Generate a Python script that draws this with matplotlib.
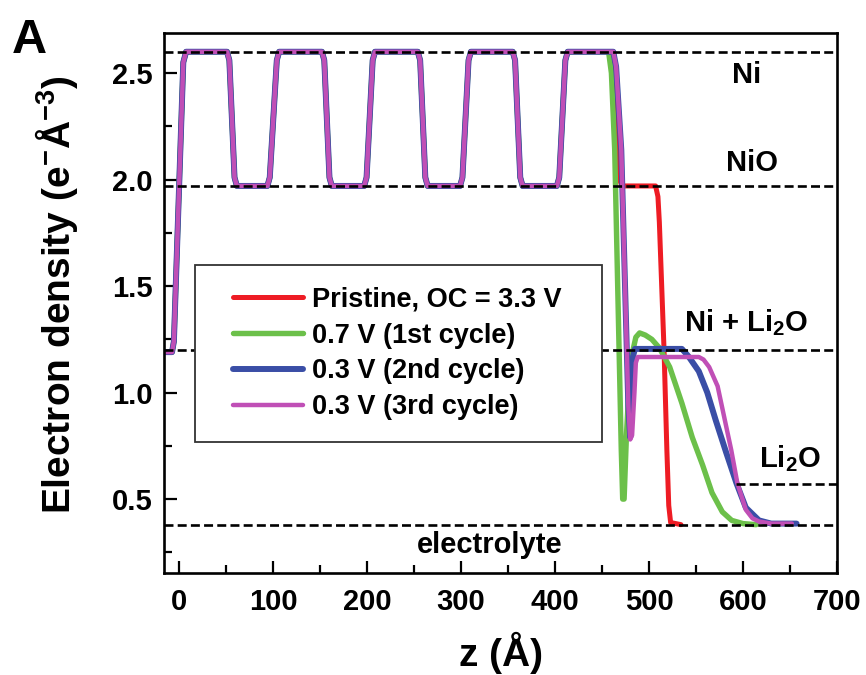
import matplotlib
matplotlib.use("Agg")
import matplotlib.pyplot as plt
from matplotlib.patches import Rectangle
from matplotlib.ticker import MultipleLocator, FormatStrFormatter

plt.rcParams["font.family"] = ["Liberation Sans", "DejaVu Sans"]
plt.rcParams["font.weight"] = "bold"
plt.rcParams["mathtext.fontset"] = "custom"
plt.rcParams["mathtext.rm"] = "Liberation Sans:bold"
plt.rcParams["mathtext.it"] = "Liberation Sans:bold"
plt.rcParams["mathtext.bf"] = "Liberation Sans:bold"

# --- data ------------------------------------------------------------------
# Ni/NiO multilayer part, shared by all four profiles
stack_z = [-16, -7.5, -5.5, 4.5, 7.5,
           51, 53.5, 59, 61.5, 94, 96.5, 104, 106.5,
           152, 154.5, 160, 162.5, 197, 199.5, 206, 208.5,
           254, 256.5, 262, 264.5, 299, 301.5, 308, 310.5,
           355, 357.5, 363, 365.5, 402, 404.5, 411, 413.5, 455]
stack_rho = [1.19, 1.19, 1.24, 2.55, 2.60,
             2.60, 2.56, 2.01, 1.97, 1.97, 2.01, 2.56, 2.60,
             2.60, 2.56, 2.01, 1.97, 1.97, 2.01, 2.56, 2.60,
             2.60, 2.56, 2.01, 1.97, 1.97, 2.01, 2.56, 2.60,
             2.60, 2.56, 2.01, 1.97, 1.97, 2.01, 2.56, 2.60, 2.60]

# outer part of each profile
red_z = [460, 462, 468, 471, 507, 509.5, 511, 516, 519, 521, 523, 534]
red_rho = [2.60, 2.57, 2.01, 1.97, 1.97, 1.92, 1.80, 1.20, 0.73, 0.47,
           0.39, 0.38]

green_z = [457, 460, 463.5, 470.5, 472, 473.5, 476, 479, 482, 486, 490, 496,
           503, 511, 522, 535, 546, 557, 567, 578, 588, 600, 614]
green_rho = [2.60, 2.50, 2.14, 0.73, 0.50, 0.50, 0.80, 1.05, 1.18, 1.26,
             1.28, 1.27, 1.25, 1.21, 1.12, 0.95, 0.79, 0.66, 0.53, 0.44,
             0.40, 0.385, 0.38]

blue_z = [462, 465, 470.5, 478, 480, 481.5, 483, 485, 535, 542, 553, 562,
          571, 582, 593, 603, 617, 630, 657]
blue_rho = [2.60, 2.53, 2.14, 0.94, 0.79, 0.95, 1.17, 1.205, 1.205, 1.17,
            1.10, 1.00, 0.87, 0.72, 0.575, 0.46, 0.40, 0.385, 0.385]

magenta_z = [462, 465, 470.5, 478, 480, 482, 484.5, 486, 488, 553, 558, 564,
             573, 580, 587.5, 594, 603, 610, 617, 630, 652]
magenta_rho = [2.60, 2.53, 2.14, 0.94, 0.78, 0.80, 1.00, 1.14, 1.167, 1.167,
               1.155, 1.12, 1.03, 0.885, 0.73, 0.575, 0.45, 0.41, 0.395,
               0.385, 0.385]

series_labels = ["Pristine, OC = 3.3 V", "0.7 V (1st cycle)",
                 "0.3 V (2nd cycle)", "0.3 V (3rd cycle)"]
series_colors = ["#ee1c24", "#6cc04a", "#3a4ea6", "#c04fb6"]
series_widths = [3.6, 3.9, 4.3, 3.2]

# reference densities of the bulk phases
ref_names = ["Ni", "NiO", "Ni + Li$_2$O", "Li$_2$O", "electrolyte"]
ref_levels = [2.60, 1.97, 1.20, 0.57, 0.38]
li2o_start = 593

# --- figure ------------------------------------------------------------------
fig = plt.figure(figsize=(8.66, 6.75), dpi=100)
fig.patch.set_facecolor("white")
ax = fig.add_axes([0.1894, 0.1511, 0.7771, 0.8000])

tails = [(red_z, red_rho), (green_z, green_rho),
         (blue_z, blue_rho), (magenta_z, magenta_rho)]
for (tz, tr), lab, col, lw in zip(tails, series_labels, series_colors,
                                  series_widths):
    ax.plot(stack_z + tz, stack_rho + tr, color=col, lw=lw, label=lab,
            solid_joinstyle="round", solid_capstyle="round", zorder=2)

dash = dict(color="black", lw=1.9, dashes=(3.4, 1.6), zorder=3)
for name, lvl in zip(ref_names, ref_levels):
    if name == "Li$_2$O":
        ax.plot([li2o_start, 700], [lvl, lvl], **dash)
    else:
        ax.axhline(lvl, **dash)

txt = dict(fontsize=21, fontweight="bold", ha="center", va="center")
ax.text(604, 2.49, ref_names[0], **txt)
ax.text(610, 2.08, ref_names[1], **txt)
ax.text(603, 1.33, ref_names[2], **txt)
ax.text(650, 0.69, ref_names[3], **txt)
ax.text(330, 0.285, ref_names[4], **txt)

# legend frame drawn as a plain box, legend entries placed inside it
ax.add_patch(Rectangle((0.0461, 0.2426), 0.6047, 0.3278,
                       transform=ax.transAxes, facecolor="white",
                       edgecolor="#333333", lw=1.3, zorder=4))
leg = ax.legend(loc="upper left", bbox_to_anchor=(0.1025, 0.530),
                fontsize=19.5, frameon=False, handlelength=2.6,
                handletextpad=0.3, borderpad=0, labelspacing=0.36,
                borderaxespad=0)
leg.set_zorder(5)

ax.set_xlim(-16, 700)
ax.set_ylim(0.153, 2.688)
ax.xaxis.set_major_locator(MultipleLocator(100))
ax.xaxis.set_minor_locator(MultipleLocator(50))
ax.yaxis.set_major_locator(MultipleLocator(0.5))
ax.yaxis.set_minor_locator(MultipleLocator(0.25))
ax.yaxis.set_major_formatter(FormatStrFormatter("%.1f"))
ax.tick_params(which="both", direction="in", width=1.6, labelsize=21,
               top=False, right=False)
ax.tick_params(which="major", length=9)
ax.tick_params(which="minor", length=5.5)
ax.tick_params(axis="x", which="major", pad=11)
ax.tick_params(axis="y", which="major", pad=8)
for lbl in ax.get_xticklabels() + ax.get_yticklabels():
    lbl.set_fontweight("bold")
for sp in ax.spines.values():
    sp.set_linewidth(1.9)

ax.set_xlabel("z (Å)", fontsize=28, fontweight="bold", labelpad=11)
ax.set_ylabel("Electron density (e$^{-}$Å$^{-3}$)", fontsize=28,
              fontweight="bold")
ax.yaxis.set_label_coords(-0.125, 0.515)

fig.text(0.014, 1 - 53 / 675, "A", fontsize=35, fontweight="bold",
         ha="left", va="baseline")

fig.savefig("out.png", dpi=100, facecolor="white")
